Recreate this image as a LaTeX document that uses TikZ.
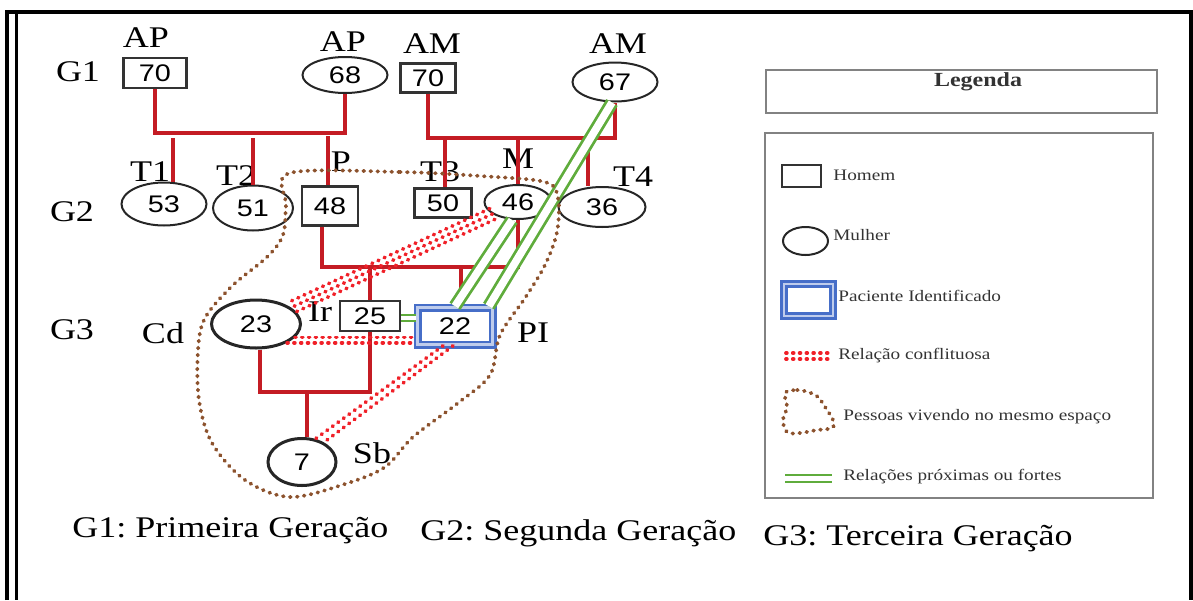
\documentclass[tikz,border=0pt]{standalone}
\usepackage{fontspec}
\setmainfont{Liberation Serif}[FakeStretch=1.2]
\newfontfamily\numfont{Liberation Sans}[FakeStretch=1.2]
\usetikzlibrary{shapes.geometric}
\definecolor{kinred}{RGB}{196,28,36}
\definecolor{conflictred}{RGB}{240,32,40}
\definecolor{homebrown}{RGB}{140,82,45}
\definecolor{closegreen}{RGB}{95,172,60}
\definecolor{piblue}{RGB}{70,110,200}
\definecolor{legframe}{RGB}{130,130,130}
\newcommand\labsize{\fontsize{15pt}{18pt}\selectfont}
\newcommand\numsize{\fontsize{12pt}{14pt}\selectfont}
\newcommand\legsize{\fontsize{8pt}{10pt}\selectfont}
\tikzset{
  dims/.style 2 args={minimum width=#1,minimum height=#2},
  man/.style={draw=black!80,line width=1.2pt,inner sep=0pt,font=\numfont\numsize},
  woman/.style={ellipse,draw=black!85,line width=1pt,inner sep=0pt,font=\numfont\numsize},
  ident/.style={draw=piblue,line width=1.3pt,double=piblue!35,double distance=1.4pt,
    inner sep=0pt,font=\numfont\numsize},
  lab/.style={font=\labsize,inner sep=0pt},
  kinline/.style={draw=kinred,line width=1.6pt},
  drop/.style={draw=kinred,line width=2pt},
  conflict/.style={draw=conflictred,line width=1.9pt,line cap=round,dash pattern=on 0.4pt off 3pt},
  living/.style={draw=homebrown,line width=1.9pt,line cap=round,dash pattern=on 0.4pt off 3.1pt},
  close/.style={draw=closegreen,line width=1.4pt,double=white,double distance=3.8pt},
  legbox/.style={draw=legframe,line width=1pt},
  legtext/.style={anchor=west,font=\legsize,text=black!80,inner sep=0pt},
}
\begin{document}
\frenchspacing
\begin{tikzpicture}[x=0.5pt,y=-0.5pt]
  \useasboundingbox (0,0) rectangle (1193,600);
  \draw[line width=1.6pt] (7,600) -- (7,12) -- (1191,12) -- (1191,600);
  \draw[line width=1.5pt] (16,13) -- (16,600);

  \node[lab] (g1) at (78,72) {G1};
  \node[lab] (g2) at (72,212) {G2};
  \node[lab] (g3) at (72,330) {G3};

  \node[man,dims={31.5pt}{15pt}] (ap1) at (155,73) {70};
  \node[woman,dims={42.5pt}{18pt}] (ap2) at (345,75) {68};
  \node[man,dims={27.5pt}{14.5pt}] (am1) at (428,78) {70};
  \node[woman,dims={42.5pt}{19.5pt}] (am2) at (615,82) {67};
  \node[lab] (lap1) at (146,38) {AP};
  \node[lab] (lap2) at (343,42) {AP};
  \node[lab] (lam1) at (432,44) {AM};
  \node[lab] (lam2) at (618,44) {AM};

  \node[woman,dims={42.5pt}{21.5pt}] (t1) at (164,204) {53};
  \node[woman,dims={40pt}{22.5pt}] (t2) at (253,208) {51};
  \node[man,dims={28pt}{19.5pt}] (p) at (330,206) {48};
  \node[man,dims={28.5pt}{14.5pt}] (t3) at (443,203) {50};
  \node[woman,dims={33.5pt}{17pt}] (m) at (518,202) {46};
  \node[woman,dims={43.5pt}{20pt}] (t4) at (602,207) {36};
  \node[lab] (lt1) at (150,172) {T1};
  \node[lab] (lt2) at (236,176) {T2};
  \node[lab] (lp) at (341,162) {P};
  \node[lab] (lt3) at (440,172) {T3};
  \node[lab] (lm) at (518,159) {M};
  \node[lab] (lt4) at (633,177) {T4};

  \node[woman,line width=1.5pt,dims={44.5pt}{24pt}] (cd) at (256,324) {23};
  \node[man,dims={30pt}{15pt}] (ir) at (370,316) {25};
  \node[ident,dims={37.5pt}{18.5pt}] (pi) at (455,326) {22};
  \node[woman,line width=1.5pt,dims={34pt}{23.5pt}] (sb) at (302,462) {7};
  \node[lab] (lcd) at (163,333) {Cd};
  \node[lab] (lir) at (320,312) {Ir};
  \node[lab] (lpi) at (533,333) {PI};
  \node[lab] (lsb) at (372,453) {Sb};

  \coordinate (bar1) at (248,133);
  \coordinate (bar2) at (520,138);
  \coordinate (bar3) at (420,267);
  \coordinate (bar4) at (315,392);
  \draw[kinline] (ap1) |- (bar1) -| (ap2);
  \draw[kinline] (am1) |- (bar2) -| (am2);
  \draw[drop] ([xshift=4.5pt]t1.north) -- ++(0,-44);
  \draw[drop] (t2.north) -- ++(0,-47);
  \draw[drop] ([xshift=-1pt]p.north) -- ++(0,-49);
  \draw[drop] ([xshift=1pt]t3.north) -- ++(0,-48);
  \draw[drop] (m.north) -- ++(0,-45);
  \draw[drop] ([xshift=-7pt]t4.north) -- ++(0,-47);
  \draw[kinline] ([xshift=-4pt]p.south) |- (bar3) -| (m);
  \draw[kinline] (ir.north) -- (ir.north |- bar3);
  \draw[kinline] ([xshift=3pt]pi.north) -- ([xshift=3pt]pi.north |- bar3);
  \draw[kinline] ([xshift=2pt]cd.south) |- (bar4) -| (ir.south);
  \draw[kinline] ([xshift=2.5pt]sb.north) -- ([xshift=2.5pt]sb.north |- bar4);

  \draw[close] ([xshift=-1.5pt]am2.south) -- ([xshift=-2.5pt]pi.north east);
  \draw[close] ([xshift=-3pt]m.south) -- (pi.north);
  \draw[close,line width=1pt,double distance=1.6pt] ([yshift=-1pt]ir.east) -- ([yshift=4pt]pi.west);

  \foreach \s in {-1,0,1}
    \draw[conflict] ([shift={(2.5*\s,5.4*\s)}]m.205) -- ([shift={(2.5*\s,5.4*\s)}]cd.25);
  \draw[conflict] (cd.-19) -- (cd.-19 -| pi.west);
  \draw[conflict] (cd.-31) -- (cd.-31 -| pi.west);
  \draw[conflict] ([xshift=-6pt]pi.south) -- (sb.60);
  \draw[conflict] ([xshift=-1pt]pi.south) -- (sb.42);

  \draw[living] plot[smooth cycle,tension=0.55] coordinates {(290,173) (400,172) (480,176)
    (545,182) (558,198) (557,232) (545,265) (525,298) (500,335) (490,375) (458,403)
    (413,437) (385,467) (345,484) (290,497) (245,480) (212,443) (199,400) (198,350)
    (205,318) (232,286) (267,257) (283,235) (286,205)};

  \node[legbox,dims={195.5pt}{21.5pt}] (leghead) at (961.5,91.5) {};
  \node[font=\fontsize{10pt}{12pt}\selectfont\bfseries,text=black!80] (legtitle) at (978,82) {Legenda};
  \node[legbox,dims={194pt}{182.5pt}] (legbody) at (959,315.5) {};
  \node[man,line width=1pt,dims={19.5pt}{11pt}] (kman) at (801.5,176) {};
  \node[legtext] (tman) at (833,175) {Homem};
  \node[woman,dims={22.5pt}{14pt}] (kwoman) at (805.5,241) {};
  \node[legtext] (twoman) at (833,235) {Mulher};
  \node[ident,dims={24.5pt}{16pt}] (kpi) at (808.5,300) {};
  \node[legtext] (tpi) at (838,296) {Paciente Identificado};
  \coordinate (kc1) at (786,353);
  \coordinate (kc2) at (832,353);
  \draw[conflict] (kc1) -- (kc2);
  \draw[conflict] ([yshift=-3pt]kc1) -- ([yshift=-3pt]kc2);
  \node[legtext] (tconf) at (838,356) {Relação conflituosa};
  \draw[living] plot[smooth cycle,tension=0.6] coordinates {(785,393) (797,390) (808,392)
    (818,397) (827,410) (833,420) (832,428) (817,430) (800,433) (787,432) (783,420) (787,407)};
  \node[legtext] (tliv) at (843,417) {Pessoas vivendo no mesmo espaço};
  \coordinate (kg1) at (785,478.5);
  \coordinate (kg2) at (832,478.5);
  \draw[close,line width=1.1pt,double distance=2.3pt] (kg1) -- (kg2);
  \node[legtext] (tclose) at (843,477) {Relações próximas ou fortes};

  \node[lab,anchor=base west] (gen1) at (72,537) {G1: Primeira Geração};
  \node[lab,anchor=base west] (gen2) at (420,540) {G2: Segunda Geração};
  \node[lab,anchor=base west] (gen3) at (763,545) {G3: Terceira Geração};
\end{tikzpicture}
\end{document}
